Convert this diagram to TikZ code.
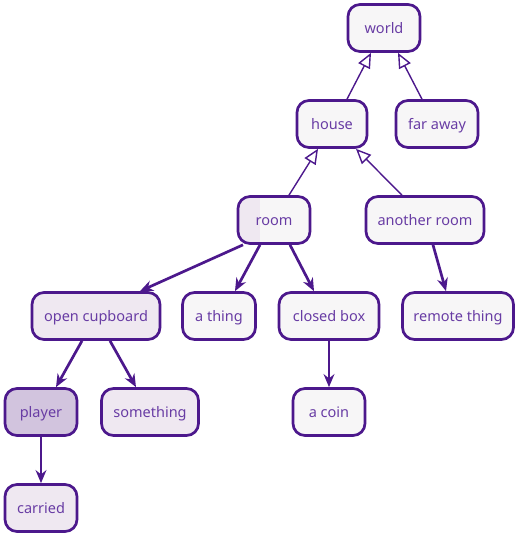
\documentclass[tikz,border=0pt]{standalone}
\usepackage{fontspec}
\setmainfont{Noto Sans}
\usepackage{xcolor}
\usepackage{tikz}
\usetikzlibrary{arrows.meta}
\usetikzlibrary{positioning}
\definecolor{edgepurple}{RGB}{76,24,140}
\definecolor{textpurple}{RGB}{104,60,164}
\definecolor{plainfill}{RGB}{247,246,247}
\definecolor{lightfill}{RGB}{239,232,241}
\definecolor{playerfill}{RGB}{210,196,222}
\tikzstyle{objnode}=[textpurple, draw=edgepurple, line width=2.7pt, shape=rectangle, rounded corners=12pt, fill=plainfill, minimum width=72pt, minimum height=47pt, inner sep=0pt, text height=12pt, text depth=1.5pt, font=\fontsize{14.5}{17}\selectfont]
\tikzstyle{heldnode}=[objnode, fill=lightfill]
\tikzstyle{playernode}=[objnode, fill=playerfill]
\tikzstyle{inside}=[-{Stealth[length=13pt, width=12pt, angle'=45]}, line width=2.7pt, color=edgepurple]
\tikzstyle{partof}=[-{Triangle[open, length=15pt, width=13pt, fill=white]}, line width=1.4pt, color=edgepurple]

\begin{document}
\begin{tikzpicture}[x=1pt, y=-1pt]
\useasboundingbox (0,0) rectangle (519,539);
\node [objnode] (world) at (384,28) {world};
\node [objnode, minimum width=70pt] (house) at (332,124) {house};
\node [objnode, minimum width=82pt] (faraway) at (437,124) {far away};
\node [objnode, path picture={\fill[lightfill, sharp corners] (path picture bounding box.north west) rectangle ([xshift=22pt]path picture bounding box.south west);}] (room) at (274,220) {room};
\node [objnode, minimum width=118pt] (anotherroom) at (425,220) {another room};
\node [heldnode, minimum width=128pt] (cupboard) at (96,316) {open cupboard};
\node [objnode, minimum width=73pt] (athing) at (219,316) {a thing};
\node [objnode, minimum width=100pt] (closedbox) at (329,316) {closed box};
\node [objnode, minimum width=111pt] (remote) at (458,316) {remote thing};
\node [playernode] (player) at (41,412) {player};
\node [heldnode, minimum width=97pt] (something) at (150,412) {something};
\node [objnode] (coin) at (329,412) {a coin};
\node [heldnode] (carried) at (41,508) {carried};

\draw[partof] ([xshift=15pt]house.north) -- ([xshift=-13pt]world.south);
\draw[partof] ([xshift=-15pt]faraway.north) -- ([xshift=14pt]world.south);
\draw[partof] ([xshift=15pt]room.north) -- ([xshift=-14pt]house.south);
\draw[partof] ([xshift=-23pt]anotherroom.north) -- ([xshift=24pt]house.south);

\draw[inside] ([xshift=-31pt]room.south) -- ([xshift=44pt]cupboard.north);
\draw[inside] ([xshift=-14pt]room.south) -- ([xshift=16pt]athing.north);
\draw[inside] ([xshift=16pt]room.south) -- ([xshift=-15pt]closedbox.north);
\draw[inside] ([xshift=8pt]anotherroom.south) -- ([xshift=-12pt]remote.north);
\draw[inside] ([xshift=-14pt]cupboard.south) -- ([xshift=15pt]player.north);
\draw[inside] ([xshift=14pt]cupboard.south) -- ([xshift=-14pt]something.north);
\draw[inside] (player) -- (carried);
\draw[inside] (closedbox) -- (coin);
\end{tikzpicture}
\end{document}
